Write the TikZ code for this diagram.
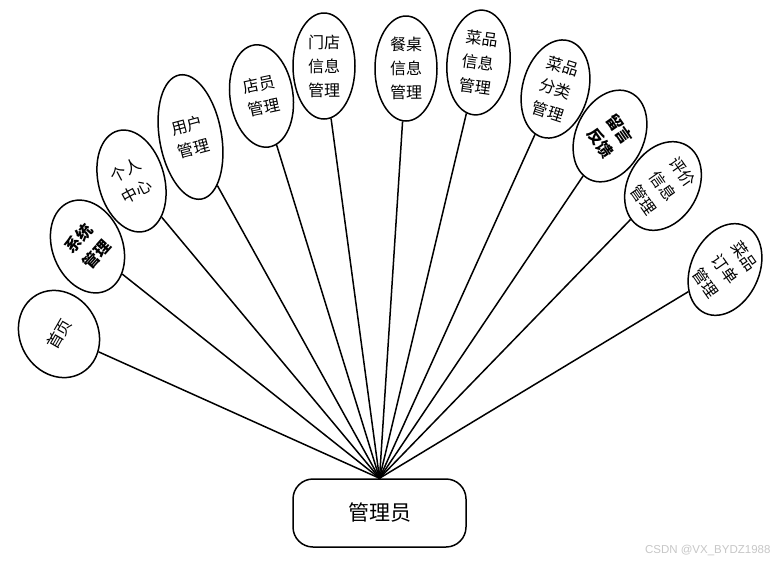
\documentclass[tikz,border=0pt]{standalone}
\usepackage{fontspec}
\newfontfamily\cjk{Noto Sans CJK SC}
\newfontfamily\wmfont{Liberation Sans}
\usetikzlibrary{shapes.geometric}
\begin{document}
\begin{tikzpicture}[x=1pt,y=-1pt,
  ell/.style={ellipse, draw, line width=1.5pt, inner sep=0pt},
  lbl/.style={font=\cjk\fontsize{16}{24}\selectfont, align=center, inner sep=0pt},
  blbl/.style={font=\cjk\bfseries\fontsize{16}{24}\selectfont, align=center, inner sep=0pt},
  link/.style={line width=1.5pt}]
\fill[white] (0,0) rectangle (781,563);
\path[use as bounding box] (0,0) rectangle (781,563);

% manager box
\node[draw, line width=1.5pt, rounded corners=20pt, minimum width=173pt, minimum height=68pt,
      font=\cjk\fontsize{21}{25}\selectfont] (mgr) at (379.5,513) {管理员};

% ellipses
\node[ell, minimum width=78pt, minimum height=90pt, rotate=30]  (e1)  at (59,334) {};
\node[ell, minimum width=70pt, minimum height=96pt, rotate=22]  (e2)  at (87.5,246.5) {};
\node[ell, minimum width=66pt, minimum height=104pt, rotate=15] (e3)  at (131.5,181) {};
\node[ell, minimum width=62pt, minimum height=126pt, rotate=10] (e4)  at (190.5,137) {};
\node[ell, minimum width=63pt, minimum height=103pt, rotate=8]  (e5)  at (261.5,96) {};
\node[ell, minimum width=62pt, minimum height=106pt, rotate=0]  (e6)  at (324,66) {};
\node[ell, minimum width=62pt, minimum height=105pt, rotate=0]  (e7)  at (406,68.5) {};
\node[ell, minimum width=63pt, minimum height=105pt, rotate=-5] (e8)  at (478.5,62.5) {};
\node[ell, minimum width=66pt, minimum height=100pt, rotate=-15] (e9) at (555.5,89) {};
\node[ell, minimum width=68pt, minimum height=96pt, rotate=-25] (e10) at (610,136) {};
\node[ell, minimum width=70pt, minimum height=94pt, rotate=-30] (e11) at (663,186) {};
\node[ell, minimum width=68pt, minimum height=96pt, rotate=-25] (e12) at (725,269.5) {};

% labels
\node[lbl, rotate=60]   (t1)  at (e1)  {首页};
\node[blbl, rotate=48]  (t2)  at (e2)  {系统\\管理};
\node[lbl, rotate=28]   (t3)  at (e3)  {个人\\中心};
\node[lbl, rotate=15]   (t4)  at (e4)  {用户\\管理};
\node[lbl, rotate=12]   (t5)  at (e5)  {店员\\管理};
\node[lbl, rotate=0]    (t6)  at (e6)  {门店\\信息\\管理};
\node[lbl, rotate=0]    (t7)  at (e7)  {餐桌\\信息\\管理};
\node[lbl, rotate=-8]   (t8)  at (e8)  {菜品\\信息\\管理};
\node[lbl, rotate=-18]  (t9)  at (e9)  {菜品\\分类\\管理};
\node[blbl, rotate=-55] (t10) at (e10) {留言\\反馈};
\node[lbl, rotate=-55]  (t11) at (e11) {评价\\信息\\管理};
\node[lbl, rotate=-55]  (t12) at (e12) {菜品\\订单\\管理};

% connectors
\foreach \i in {1,...,12}
  \draw[link] (mgr.north) -- (e\i);

% watermark
\node[text=black!22, font=\wmfont\fontsize{11.5}{13}\selectfont, anchor=east] (wm) at (774,550) {CSDN @VX\_BYDZ1988};
\end{tikzpicture}
\end{document}
